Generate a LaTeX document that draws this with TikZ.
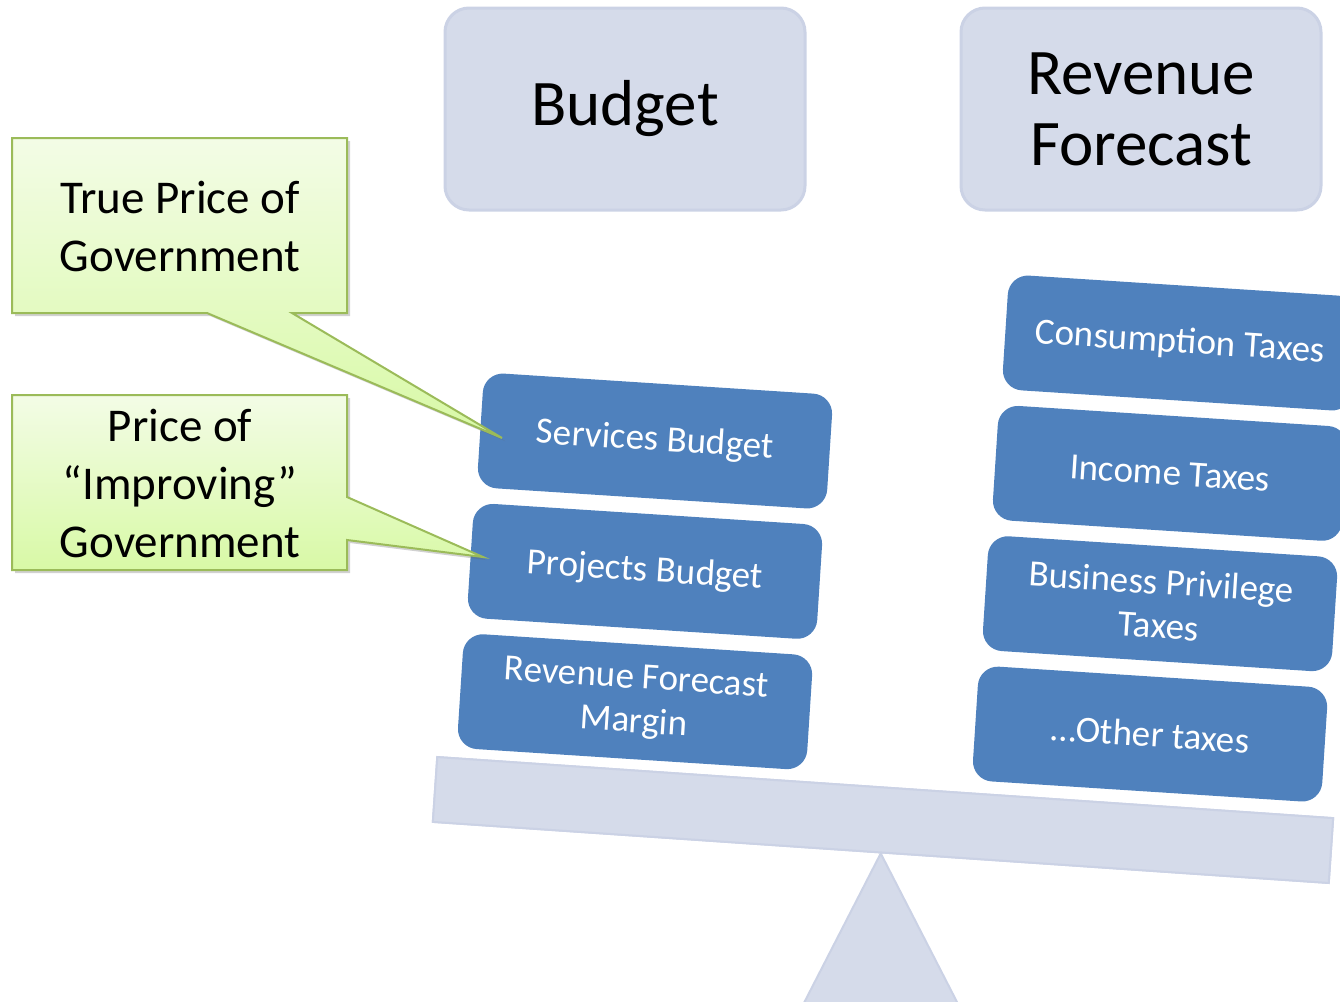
\documentclass[tikz,border=0pt]{standalone}
\usepackage{fontspec}
\setmainfont{Carlito}
\usetikzlibrary{positioning,shadows}

\definecolor{headfill}{RGB}{213,219,234}
\definecolor{headline}{RGB}{203,210,229}
\definecolor{itemblue}{RGB}{79,129,189}
\definecolor{notetop}{RGB}{243,252,230}
\definecolor{notebot}{RGB}{216,249,166}
\definecolor{noteline}{RGB}{155,187,89}

\begin{document}
\begin{tikzpicture}[x=0.5pt,y=-0.5pt,node distance=65.5pt,on grid,
    head/.style={rectangle,rounded corners=12pt,fill=headfill,draw=headline,line width=1.5pt,
      minimum width=180pt,minimum height=101pt,align=center,font=\fontsize{32.5}{35.5}\selectfont},
    item/.style={rectangle,rounded corners=10pt,fill=itemblue,text=white,inner sep=0pt,
      minimum width=175pt,minimum height=57.5pt,rotate=-3.7,align=center,
      font=\fontsize{18.5}{22}\selectfont},
    beam/.style={rectangle,fill=headfill,draw=headline,line width=1pt,inner sep=0pt,
      minimum width=449pt,minimum height=32.5pt,rotate=-3.9},
    note/.style={top color=notetop,bottom color=notebot,draw=noteline,line width=1pt,
      drop shadow={shadow xshift=1.5pt,shadow yshift=-1.5pt,opacity=0.3,fill=black!60}},
    tag/.style={align=center,font=\fontsize{23.5}{29}\selectfont}]
  \useasboundingbox (0,0) rectangle (1340,1002);
  \clip (0,0) rectangle (1340,1002);

  % headings
  \node[head] (bud) at (625,109) {Budget};
  \node[head] (rev) at (1141,109) {Revenue\\Forecast};

  % the scale
  \node[beam] (bm) at (883,820) {};
  \fill[headfill,draw=headline,line width=1pt] (bm.south) -- ++(77,150) -- ++(-154,0) -- cycle;
  \node[beam] at (bm) {};

  % budget side
  \node[item] (svc) at (655,441) {Services Budget};
  \node[item] (prj) [below=of svc,xshift=-5pt] {Projects Budget};
  \node[item] (mrg) [below=of prj,xshift=-5pt] {Revenue Forecast\\Margin};

  % revenue side
  \node[item] (con) at (1180,343) {Consumption Taxes};
  \node[item] (inc) [below=of con,xshift=-5pt] {Income Taxes};
  \node[item] (bus) [below=of inc,xshift=-5pt] {Business Privilege\\Taxes};
  \node[item] (oth) [below=of bus,xshift=-5pt] {\dots Other taxes};

  % callouts
  \coordinate (tipS) at (502,438);
  \coordinate (tipP) at (483,557);
  \path[note] (12,138) -- (347,138) -- (347,313) -- (292,313) -- (tipS) -- (207,313) -- (12,313) -- cycle;
  \node[tag] (truep) at (180,226) {True Price of\\Government};
  \path[note] (12,395) -- (347,395) -- (347,497) -- (tipP) -- (347,540) -- (347,570) -- (12,570) -- cycle;
  \node[tag] (impr) at (180,483) {Price of\\“Improving”\\Government};
\end{tikzpicture}
\end{document}
